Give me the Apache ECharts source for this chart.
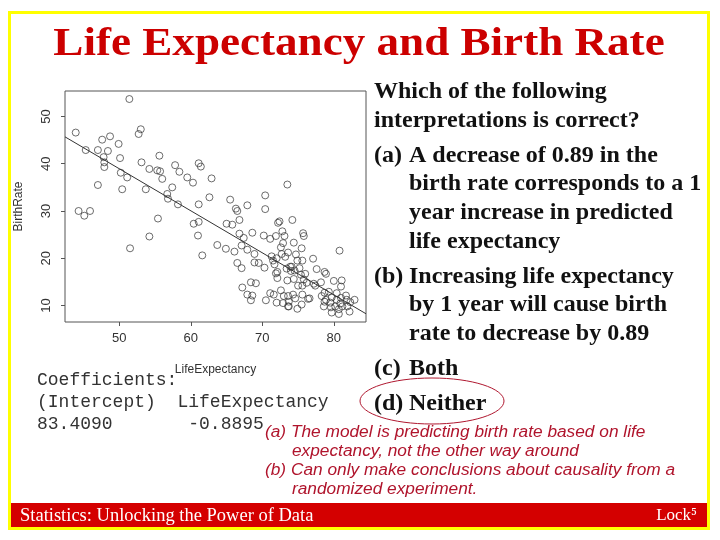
<!DOCTYPE html>
<html>
<head>
<meta charset="utf-8">
<script src="https://cdn.jsdelivr.net/npm/echarts@6/dist/echarts.min.js"></script>
<style>html,body{margin:0;padding:0;background:#fff}#c{width:720px;height:540px}</style>
</head>
<body>
<div id="c"></div>
<script>
const lifeExpectancy = [51.4,43.9,45.3,47.0,47.6,48.7,48.4,47.8,47.9,47.9,49.9,50.1,50.2,51.1,50.4,47.0,44.3,45.1,45.9,52.7,
53.0,53.1,54.2,55.3,55.6,55.7,56.0,53.7,56.7,56.8,57.4,57.8,58.4,58.2,55.4,54.2,51.5,59.5,60.3,61.1,
61.4,62.9,62.6,61.1,60.4,61.1,61.0,61.6,63.7,64.9,65.5,66.3,66.5,67.9,65.0,65.8,66.8,66.1,66.8,66.5,
67.1,67.4,67.1,67.9,68.6,68.9,68.9,69.5,67.2,67.9,68.4,69.1,68.6,68.4,70.4,70.4,70.2,70.3,70.5,71.1,
71.3,71.5,71.7,71.9,71.9,72.1,72.4,72.6,71.6,72.0,72.6,72.8,72.9,73.1,73.5,73.6,73.4,73.5,72.9,73.7,
74.2,74.4,73.0,73.6,73.7,74.6,74.7,74.9,74.1,74.0,75.2,75.4,75.5,74.9,74.3,75.6,75.7,75.8,75.6,75.6,
75.5,75.8,76.2,77.1,76.6,77.6,77.4,78.2,78.7,78.9,80.8,80.0,81.1,81.0,80.4,79.3,78.3,78.9,79.7,80.4,
81.0,81.8,82.3,78.6,79.6,80.2,80.7,79.7,80.7,81.2,82.2,81.9,81.7,78.7,79.5,80.9,82.9,78.7,75.0,74.4,
72.0,73.2,73.9,74.5,76.4,73.6,71.1,72.7,72.1,76.0,72.2,77.2];
const birthRate = [53.7,46.6,42.9,42.9,45.1,45.8,42.7,41.4,40.3,39.3,44.2,41.2,38.1,37.1,34.6,35.5,30.0,29.0,30.0,46.3,
47.3,40.3,38.9,38.6,41.7,38.4,36.8,34.6,33.6,32.6,35.0,39.7,38.3,31.4,28.4,24.6,22.1,37.1,36.0,40.1,
39.4,36.9,32.9,31.4,27.3,27.7,24.8,20.6,22.8,22.0,32.4,30.5,30.0,31.2,27.3,27.1,28.1,21.4,25.2,19.0,
17.9,24.3,22.7,21.8,25.4,20.9,19.1,19.0,13.8,12.3,14.9,14.7,12.1,11.1,33.3,30.4,24.8,18.0,11.1,24.1,
20.4,19.5,18.7,24.7,16.8,15.8,27.8,22.3,12.3,10.6,13.2,25.7,23.2,24.7,35.6,21.2,17.8,15.3,10.5,9.8,
28.1,23.3,12.0,12.0,10.8,11.5,20.8,19.5,18.2,17.3,17.9,16.5,22.1,9.3,12.3,19.5,25.3,24.7,14.2,12.3,
10.2,15.5,14.8,19.9,11.5,17.7,14.2,14.9,17.1,16.7,21.6,15.2,15.3,14.0,12.6,12.9,12.0,11.2,11.7,11.2,
11.6,11.2,10.7,9.8,9.6,9.8,9.2,8.5,8.2,9.8,8.7,9.8,12.1,10.8,10.6,10.4,11.2,12.7,14.2,15.6,
20.0,20.3,18.2,17.4,11.4,9.8,12.6,20.9,17.1,16.7,27.5,14.6];
const coefficients = [83.4090, -0.8895];
const xTicks = [50, 60, 70, 80];
const yTicks = [10, 20, 30, 40, 50];
const questionLines = ["Which of the following", "interpretations is correct?"];
const optionA = ["(a)", "A decrease of 0.89 in the", "birth rate corresponds to a 1", "year increase in predicted", "life expectancy"];
const optionB = ["(b)", "Increasing life expectancy", "by 1 year will cause birth", "rate to decrease by 0.89"];
const optionC = ["(c)", "Both"];
const optionD = ["(d)", "Neither"];
const coefText = ["Coefficients:", "(Intercept)  LifeExpectancy", "83.4090       -0.8895"];
const noteLines = ["(a) The model is predicting birth rate based on life", "expectancy, not the other way around", "(b) Can only make conclusions about causality from a", "randomized experiment."];

const xMin = 42.4, xMax = 84.5, yMin = 6.5, yMax = 55.4;
const points = lifeExpectancy.map((x, i) => [x, birthRate[i]]);
const fitLine = [xMin, xMax].map(x => [x, coefficients[0] + coefficients[1] * x]);

const serifB = '"Liberation Serif", "DejaVu Serif", serif';
const G = [];
function txt(x, y, text, font, fill, sx) {
  G.push({type: 'text', silent: true, x: x, y: y, scaleX: sx || 1, style: {x: 0, y: 0, text: text, font: font, fill: fill, verticalAlign: 'middle', align: 'left'}});
}
// slide frame
G.push({type: 'rect', silent: true, shape: {x: 9.5, y: 12.5, width: 699, height: 516}, style: {fill: 'none', stroke: '#ffff00', lineWidth: 3}});
G.push({type: 'rect', silent: true, shape: {x: 11, y: 503, width: 696, height: 24}, style: {fill: '#d40000'}});
txt(20, 516, 'Statistics: Unlocking the Power of Data', '18.5px ' + serifB, '#ffffff');
G.push({type: 'text', silent: true, style: {x: 697, y: 516, text: 'Lock⁵', font: '17px ' + serifB, fill: '#ffffff', align: 'right', verticalAlign: 'middle'}});
// title
G.push({type: 'text', silent: true, x: 359, y: 44, scaleX: 1.1, style: {x: 0, y: 0, text: 'Life Expectancy and Birth Rate', font: 'bold 41px ' + serifB, fill: '#cc0000', align: 'center', verticalAlign: 'middle'}});
// question text
const qf = 'bold 24px ' + serifB;
txt(374, 92, questionLines[0], qf, '#111');
txt(374, 121, questionLines[1], qf, '#111');
const aY = [156, 184, 213, 242];
txt(374, aY[0], optionA[0], qf, '#111');
for (let i = 1; i < optionA.length; i++) txt(409, aY[i - 1], optionA[i], qf, '#111');
const bY = [277, 305, 334];
txt(374, bY[0], optionB[0], qf, '#111');
for (let i = 1; i < optionB.length; i++) txt(409, bY[i - 1], optionB[i], qf, '#111');
txt(374, 369, optionC[0], qf, '#111');
txt(409, 369, optionC[1], qf, '#111');
txt(374, 404, optionD[0], qf, '#111');
txt(409, 404, optionD[1], qf, '#111');
// circle around (d)
G.push({type: 'ellipse', silent: true, shape: {cx: 432, cy: 401, rx: 72, ry: 23}, style: {fill: 'none', stroke: '#b01830', lineWidth: 1}});
// coefficients
const mf = '18px "Liberation Mono", "DejaVu Sans Mono", monospace';
txt(37, 380, coefText[0], mf, '#333');
txt(37, 402, coefText[1], mf, '#333');
txt(37, 424, coefText[2], mf, '#333');
// handwritten notes
const nf = 'italic 17.3px "Liberation Sans", "DejaVu Sans", sans-serif';
txt(265, 432, noteLines[0], nf, '#b0142c');
txt(292, 451, noteLines[1], nf, '#b0142c');
txt(265, 470, noteLines[2], nf, '#b0142c');
txt(292, 489, noteLines[3], nf, '#b0142c');

const axisFont = {color: '#333', fontSize: 13, fontFamily: '"Liberation Sans", Arial, sans-serif'};
const chart = echarts.init(document.getElementById('c'), null, {renderer: 'canvas'});
chart.setOption({
  backgroundColor: '#ffffff',
  animation: false,
  grid: {left: 65, top: 91, width: 301, height: 231, show: true, borderColor: '#555', borderWidth: 1, backgroundColor: 'transparent'},
  xAxis: {
    type: 'value', min: xMin, max: xMax,
    name: 'LifeExpectancy', nameLocation: 'middle', nameGap: 42,
    nameTextStyle: {color: '#333', fontSize: 12, fontFamily: '"Liberation Sans", Arial, sans-serif'},
    axisLine: {show: false},
    axisTick: {show: true, customValues: xTicks, length: 4, inside: false, lineStyle: {color: '#555'}},
    axisLabel: Object.assign({customValues: xTicks, margin: 10}, axisFont),
    splitLine: {show: false}
  },
  yAxis: {
    type: 'value', min: yMin, max: yMax,
    name: 'BirthRate', nameLocation: 'middle', nameGap: 40, nameRotate: 90,
    nameTextStyle: {color: '#333', fontSize: 12, fontFamily: '"Liberation Sans", Arial, sans-serif'},
    axisLine: {show: false},
    axisTick: {show: true, customValues: yTicks, length: 4, lineStyle: {color: '#555'}},
    axisLabel: Object.assign({customValues: yTicks, rotate: 90, margin: 12, align: 'center'}, axisFont),
    splitLine: {show: false}
  },
  series: [
    {type: 'scatter', data: points, symbol: 'circle', symbolSize: 7,
     itemStyle: {color: 'transparent', borderColor: '#333', borderWidth: 0.9}, silent: true},
    {type: 'line', data: fitLine, symbol: 'none', lineStyle: {color: '#333', width: 1}, silent: true}
  ],
  graphic: G
});
</script>
</body>
</html>
